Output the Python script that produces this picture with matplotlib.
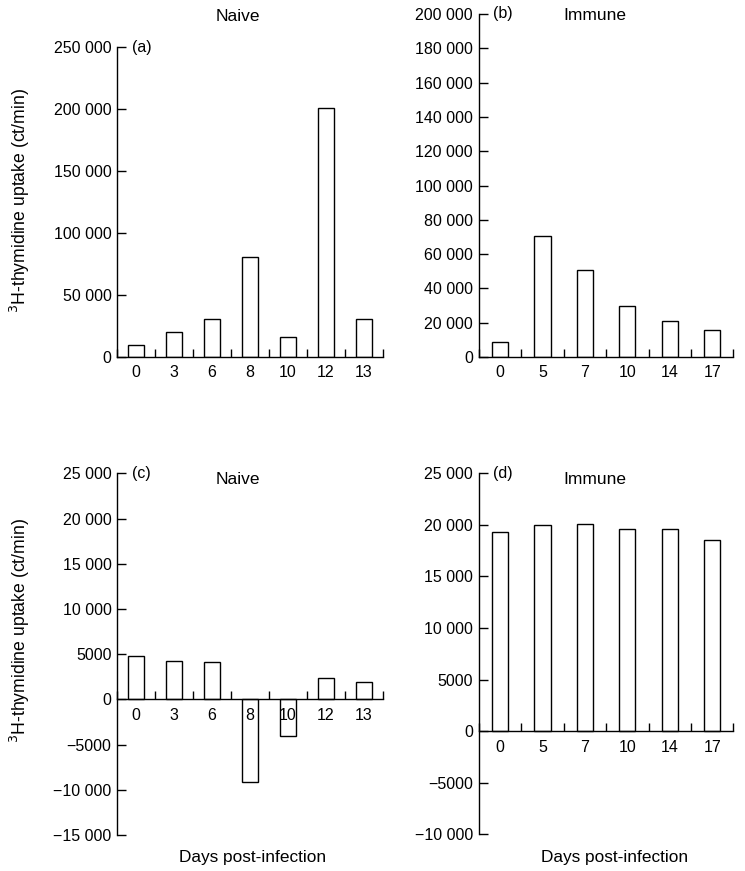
import matplotlib
matplotlib.use('Agg')
import matplotlib.pyplot as plt
from matplotlib.ticker import FuncFormatter, FixedLocator

plt.rcParams['font.family'] = ['Liberation Sans', 'DejaVu Sans']
plt.rcParams['font.size'] = 11.5

naive_days = ['0', '3', '6', '8', '10', '12', '13']
immune_days = ['0', '5', '7', '10', '14', '17']

naive_a = [10000, 20000, 31000, 80500, 16000, 200500, 30500]
immune_b = [9000, 70500, 50500, 30000, 21000, 16000]
naive_c = [4800, 4200, 4100, -9100, -4000, 2400, 1900]
immune_d = [19300, 20000, 20100, 19600, 19600, 18500]

ylabel = '$^{3}$H-thymidine uptake (ct/min)'


def fmt(v, pos):
    v = int(round(v))
    if abs(v) < 10000:
        s = str(abs(v))
    else:
        s = '{:,}'.format(abs(v)).replace(',', ' ')
    return ('\u2212' + s) if v < 0 else s


def panel(ax, days, vals, width, ylim, step, letter, title, title_y):
    n = len(days)
    ax.bar(range(n), vals, width=width, color='white', edgecolor='black', linewidth=1)
    ax.set_xlim(-0.5, n - 0.5)
    ax.set_ylim(*ylim)
    for s in ['top', 'right']:
        ax.spines[s].set_visible(False)
    ax.spines['bottom'].set_position(('data', 0))
    ax.spines['left'].set_linewidth(1)
    ax.spines['bottom'].set_linewidth(1)
    ax.set_xticks(range(n))
    ax.set_xticklabels(days)
    ax.xaxis.set_minor_locator(FixedLocator([i - 0.5 for i in range(n + 1)]))
    ax.tick_params(axis='x', which='major', length=0, pad=6)
    ax.tick_params(axis='x', which='minor', direction='in', length=6, width=1)
    ticks = list(range(ylim[0], ylim[1] + 1, step))
    ax.set_yticks(ticks)
    ax.yaxis.set_major_formatter(FuncFormatter(fmt))
    ax.tick_params(axis='y', direction='in', length=6.5, width=1, pad=4)
    ax.text(0.058, ylim[1], letter, transform=ax.get_yaxis_transform(), ha='left', va='center')
    ax.text(0.455, title_y, title, transform=ax.transAxes, ha='center', va='center', fontsize=12.5)


fig = plt.figure(figsize=(7.45, 8.71), dpi=100)
ax_a = fig.add_axes([0.157, 0.590, 0.357, 0.356])
ax_b = fig.add_axes([0.6425, 0.590, 0.342, 0.394])
ax_c = fig.add_axes([0.157, 0.0413, 0.357, 0.4153])
ax_d = fig.add_axes([0.6425, 0.0421, 0.342, 0.4145])

panel(ax_a, naive_days, naive_a, 0.42, (0, 250000), 50000, '(a)', 'Naive', 1.1)
panel(ax_b, immune_days, immune_b, 0.385, (0, 200000), 20000, '(b)', 'Immune', 0.994)
panel(ax_c, naive_days, naive_c, 0.42, (-15000, 25000), 5000, '(c)', 'Naive', 0.982)
panel(ax_d, immune_days, immune_d, 0.385, (-10000, 25000), 5000, '(d)', 'Immune', 0.982)

fig.text(0.027, 1 - 200 / 871, ylabel, rotation=90, ha='center', va='center', fontsize=12.7)
fig.text(0.027, 1 - 630 / 871, ylabel, rotation=90, ha='center', va='center', fontsize=12.7)
fig.text(253 / 745, 1 - 857 / 871, 'Days post-infection', ha='center', va='center', fontsize=12.4)
fig.text(615 / 745, 1 - 857 / 871, 'Days post-infection', ha='center', va='center', fontsize=12.4)

fig.savefig('out.png', dpi=100)
